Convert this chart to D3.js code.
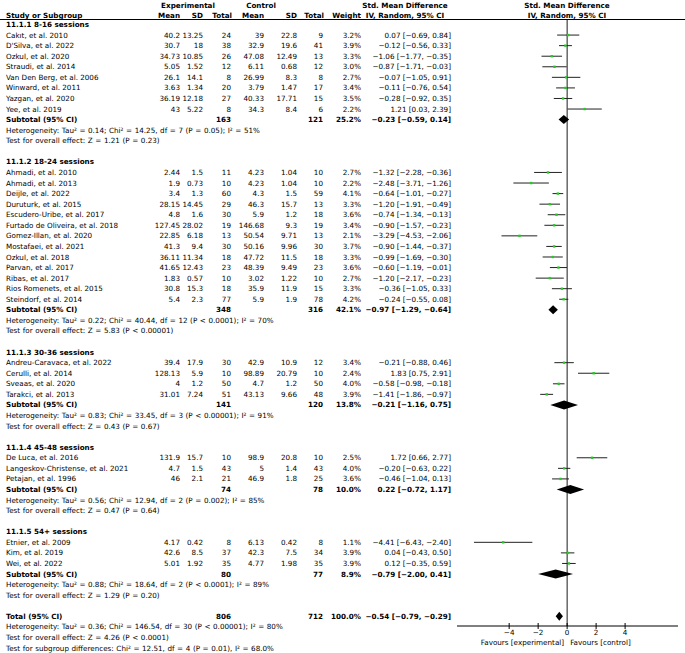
<!DOCTYPE html>
<html>
<head>
<meta charset="utf-8">
<script src="https://cdn.jsdelivr.net/npm/d3@7"></script>
<style>
  body { margin: 0; background: #fff; }
  text { font-family: "DejaVu Sans", sans-serif; font-size: 7.2px; fill: #000; }
  .b { font-weight: bold; }
  .het { word-spacing: 0.3px; }
</style>
</head>
<body>
<div id="chart"></div>
<script>
// subgroups
var groupNames = ["11.1.1 8-16 sessions", "11.1.2 18-24 sessions", "11.1.3 30-36 sessions", "11.1.4 45-48 sessions", "11.1.5 54+ sessions"];

// studies
var studyNames = [
  "Cakıt, et al. 2010", "D'Silva, et al. 2022", "Ozkul, et al. 2020", "Straudi, et al. 2014", "Van Den Berg, et al. 2006", "Winward, et al. 2011", "Yazgan, et al. 2020", "Yee, et al. 2019",
  "Ahmadi, et al. 2010", "Ahmadi, et al. 2013", "Deijle, et al. 2022", "Duruturk, et al. 2015", "Escudero-Uribe, et al. 2017", "Furtado de Oliveira, et al. 2018", "Gomez-Illan, et al. 2020", "Mostafaei, et al. 2021", "Ozkul, et al. 2018", "Parvan, et al. 2017", "Ribas, et al. 2017", "Rios Romenets, et al. 2015", "Steindorf, et al. 2014",
  "Andreu-Caravaca, et al. 2022", "Cerulli, et al. 2014", "Sveaas, et al. 2020", "Tarakci, et al. 2013",
  "De Luca, et al. 2016", "Langeskov-Christense, et al. 2021", "Petajan, et al. 1996",
  "Etnier, et al. 2009", "Kim, et al. 2019", "Wei, et al. 2022"
];
var studyGroup = [0,0,0,0,0,0,0,0, 1,1,1,1,1,1,1,1,1,1,1,1,1, 2,2,2,2, 3,3,3, 4,4,4];
var expMean = [40.2, 30.7, 34.73, 5.05, 26.1, 3.63, 36.19, 43, 2.44, 1.9, 3.4, 28.15, 4.8, 127.45, 22.85, 41.3, 36.11, 41.65, 1.83, 30.8, 5.4, 39.4, 128.13, 4, 31.01, 131.9, 4.7, 46, 4.17, 42.6, 5.01];
var expSD = [13.25, 18, 10.85, 1.52, 14.1, 1.34, 12.18, 5.22, 1.5, 0.73, 1.3, 14.45, 1.6, 28.02, 6.18, 9.4, 11.34, 12.43, 0.57, 15.3, 2.3, 17.9, 5.9, 1.2, 7.24, 15.7, 1.5, 2.1, 0.42, 8.5, 1.92];
var expN = [24, 38, 26, 12, 8, 20, 27, 8, 11, 10, 60, 29, 30, 19, 13, 30, 18, 23, 10, 18, 77, 30, 10, 50, 51, 10, 43, 21, 8, 37, 35];
var ctlMean = [39, 32.9, 47.08, 6.11, 26.99, 3.79, 40.33, 34.3, 4.23, 4.23, 4.3, 46.3, 5.9, 146.68, 50.54, 50.16, 47.72, 48.39, 3.02, 35.9, 5.9, 42.9, 98.89, 4.7, 43.13, 98.9, 5, 46.9, 6.13, 42.3, 4.77];
var ctlSD = [22.8, 19.6, 12.49, 0.68, 8.3, 1.47, 17.71, 8.4, 1.04, 1.04, 1.5, 15.7, 1.2, 9.3, 9.71, 9.96, 11.5, 9.49, 1.22, 11.9, 1.9, 10.9, 20.79, 1.2, 9.66, 20.8, 1.4, 1.8, 0.42, 7.5, 1.98];
var ctlN = [9, 41, 13, 12, 8, 17, 15, 6, 10, 10, 59, 13, 18, 19, 13, 30, 18, 23, 10, 15, 78, 12, 10, 50, 48, 10, 43, 25, 8, 34, 35];
var weight = [3.2, 3.9, 3.3, 3.0, 2.7, 3.4, 3.5, 2.2, 2.7, 2.2, 4.1, 3.3, 3.6, 3.4, 2.1, 3.7, 3.3, 3.6, 2.7, 3.3, 4.2, 3.4, 2.4, 4.0, 3.9, 2.5, 4.0, 3.6, 1.1, 3.9, 3.9];
var smd = [0.07, -0.12, -1.06, -0.87, -0.07, -0.11, -0.28, 1.21, -1.32, -2.48, -0.64, -1.20, -0.74, -0.90, -3.29, -0.90, -0.99, -0.60, -1.20, -0.36, -0.24, -0.21, 1.83, -0.58, -1.41, 1.72, -0.20, -0.46, -4.41, 0.04, 0.12];
var ciLow = [-0.69, -0.56, -1.77, -1.71, -1.05, -0.76, -0.92, 0.03, -2.28, -3.71, -1.01, -1.91, -1.34, -1.57, -4.53, -1.44, -1.69, -1.19, -2.17, -1.05, -0.55, -0.88, 0.75, -0.98, -1.86, 0.66, -0.63, -1.04, -6.43, -0.43, -0.35];
var ciHigh = [0.84, 0.33, -0.35, -0.03, 0.91, 0.54, 0.35, 2.39, -0.36, -1.26, -0.27, -0.49, -0.13, -0.23, -2.06, -0.37, -0.30, -0.01, -0.23, 0.33, 0.08, 0.46, 2.91, -0.18, -0.97, 2.77, 0.22, 0.13, -2.40, 0.50, 0.59];

// subtotals per subgroup
var subExpN = [163, 348, 141, 74, 80];
var subCtlN = [121, 316, 120, 78, 77];
var subWeight = [25.2, 42.1, 13.8, 10.0, 8.9];
var subSmd = [-0.23, -0.97, -0.21, 0.22, -0.79];
var subLow = [-0.59, -1.29, -1.16, -0.72, -2.00];
var subHigh = [0.14, -0.64, 0.75, 1.17, 0.41];
var subTau2 = ["0.14", "0.22", "0.83", "0.56", "0.88"];
var subChi2 = ["14.25", "40.44", "33.45", "12.94", "18.64"];
var subDf = [7, 12, 3, 2, 2];
var subPHet = ["= 0.05", "< 0.0001", "< 0.00001", "= 0.002", "< 0.0001"];
var subI2 = [51, 70, 91, 85, 89];
var subZ = ["1.21", "5.83", "0.43", "0.47", "1.29"];
var subPZ = ["= 0.23", "< 0.00001", "= 0.67", "= 0.64", "= 0.20"];

// overall
var totalExpN = 806, totalCtlN = 712, totalWeight = 100.0;
var totalSmd = -0.54, totalLow = -0.79, totalHigh = -0.29;
var totalHet = "Heterogeneity: Tau² = 0.36; Chi² = 146.54, df = 30 (P < 0.00001); I² = 80%";
var totalTest = "Test for overall effect: Z = 4.26 (P < 0.0001)";
var subgroupTest = "Test for subgroup differences: Chi² = 12.51, df = 4 (P = 0.01), I² = 68.0%";

var axisTicks = [-4, -2, 0, 2, 4];
var favourLeft = "Favours [experimental]", favourRight = "Favours [control]";

var width = 685, height = 653;
var svg = d3.select("#chart").append("svg").attr("width", width).attr("height", height);

var fmt2 = d3.format(".2f");
var fmtW = function (w) { return d3.format(".1f")(w) + "%"; };
var ciText = function (m, l, h) { return fmt2(m) + " [" + fmt2(l) + ", " + fmt2(h) + "]"; };

// column positions (right edges)
var col = { name: 6, eMean: 180, eSD: 203, eN: 231, cMean: 264, cSD: 297, cN: 323, w: 361, ci: 451 };

// build row list
var rows = [];
groupNames.forEach(function (g, gi) {
  rows.push({ type: "group", label: g });
  studyNames.forEach(function (s, i) {
    if (studyGroup[i] === gi) rows.push({ type: "study", i: i });
  });
  rows.push({ type: "sub", gi: gi });
  rows.push({ type: "text", label: "Heterogeneity: Tau² = " + subTau2[gi] + "; Chi² = " + subChi2[gi] + ", df = " + subDf[gi] + " (P " + subPHet[gi] + "); I² = " + subI2[gi] + "%" });
  rows.push({ type: "text", label: "Test for overall effect: Z = " + subZ[gi] + " (P " + subPZ[gi] + ")" });
  rows.push({ type: "blank" });
});
rows.push({ type: "total" });
rows.push({ type: "text", label: totalHet });
rows.push({ type: "text", label: totalTest });
rows.push({ type: "text", label: subgroupTest });

var y = d3.scaleLinear().domain([0, rows.length - 1]).range([24.5, 648]);
var x = d3.scaleLinear().domain([-7.6, 7.65]).range([457, 678]);

function txt(xp, yp, s, anchor, cls) {
  return svg.append("text").attr("x", xp).attr("y", yp).attr("dy", "0.35em")
    .attr("text-anchor", anchor || "end").attr("class", cls || null).text(s);
}

// header
txt(188, 5, "Experimental", "middle", "b");
txt(261, 5, "Control", "middle", "b");
txt(405, 5, "Std. Mean Difference", "middle", "b");
txt(567, 5, "Std. Mean Difference", "middle", "b");
txt(col.name, 15, "Study or Subgroup", "start", "b");
txt(col.eMean, 15, "Mean", "end", "b");
txt(col.eSD, 15, "SD", "end", "b");
txt(col.eN + 1, 15, "Total", "end", "b");
txt(col.cMean, 15, "Mean", "end", "b");
txt(col.cSD, 15, "SD", "end", "b");
txt(col.cN + 1, 15, "Total", "end", "b");
txt(col.w, 15, "Weight", "end", "b");
txt(405, 15, "IV, Random, 95% CI", "middle", "b");
txt(567, 15, "IV, Random, 95% CI", "middle", "b");
svg.append("line").attr("x1", 0).attr("x2", width).attr("y1", 19.5).attr("y2", 19.5).attr("stroke", "#000");

// zero line
svg.append("line").attr("x1", x(0)).attr("x2", x(0)).attr("y1", 19.5).attr("y2", 626)
  .attr("stroke", "#000").attr("stroke-width", 0.9);

function diamond(m, l, h, yp) {
  svg.append("path")
    .attr("d", "M" + x(l) + "," + yp + "L" + x(m) + "," + (yp - 4.5) + "L" + x(h) + "," + yp + "L" + x(m) + "," + (yp + 4.5) + "Z")
    .attr("fill", "#000");
}

rows.forEach(function (r, k) {
  var yp = y(k);
  if (r.type === "group") {
    txt(col.name, yp, r.label, "start", "b");
  } else if (r.type === "study") {
    var i = r.i;
    txt(col.name, yp, studyNames[i], "start");
    txt(col.eMean, yp, String(expMean[i]));
    txt(col.eSD, yp, String(expSD[i]));
    txt(col.eN, yp, String(expN[i]));
    txt(col.cMean, yp, String(ctlMean[i]));
    txt(col.cSD, yp, String(ctlSD[i]));
    txt(col.cN, yp, String(ctlN[i]));
    txt(col.w, yp, fmtW(weight[i]));
    txt(col.ci, yp, ciText(smd[i], ciLow[i], ciHigh[i]));
    svg.append("line").attr("x1", x(ciLow[i])).attr("x2", x(ciHigh[i])).attr("y1", yp).attr("y2", yp)
      .attr("stroke", "#222").attr("stroke-width", 1);
    svg.append("rect").attr("x", x(smd[i]) - 1.2).attr("y", yp - 1.2).attr("width", 2.4).attr("height", 2.4)
      .attr("fill", "#22cc22");
  } else if (r.type === "sub") {
    var g = r.gi;
    txt(col.name, yp, "Subtotal (95% CI)", "start", "b");
    txt(col.eN, yp, String(subExpN[g]), "end", "b");
    txt(col.cN, yp, String(subCtlN[g]), "end", "b");
    txt(col.w, yp, fmtW(subWeight[g]), "end", "b");
    txt(col.ci, yp, ciText(subSmd[g], subLow[g], subHigh[g]), "end", "b");
    diamond(subSmd[g], subLow[g], subHigh[g], yp);
  } else if (r.type === "text") {
    txt(col.name, yp, r.label, "start", "het");
  } else if (r.type === "total") {
    txt(col.name, yp, "Total (95% CI)", "start", "b");
    txt(col.eN, yp, String(totalExpN), "end", "b");
    txt(col.cN, yp, String(totalCtlN), "end", "b");
    txt(col.w, yp, fmtW(totalWeight), "end", "b");
    txt(col.ci, yp, ciText(totalSmd, totalLow, totalHigh), "end", "b");
    diamond(totalSmd, totalLow, totalHigh, yp);
  }
});

// axis
var axisY = 626;
svg.append("line").attr("x1", x.range()[0]).attr("x2", x.range()[1]).attr("y1", axisY).attr("y2", axisY)
  .attr("stroke", "#000");
axisTicks.forEach(function (t) {
  svg.append("line").attr("x1", x(t)).attr("x2", x(t)).attr("y1", axisY - 3).attr("y2", axisY + 3).attr("stroke", "#000");
  txt(x(t), 632.5, d3.format("d")(t), "middle");
});
txt(x(0) - 3, 642.5, favourLeft, "end");
txt(x(0) + 3, 642.5, favourRight, "start");
</script>
</body>
</html>
